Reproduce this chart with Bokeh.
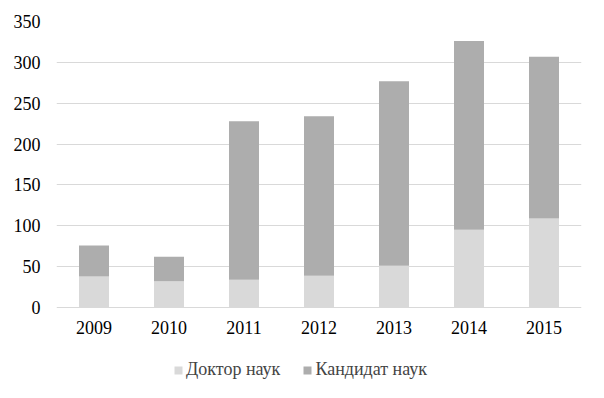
from bokeh.plotting import figure
from bokeh.models import Legend, LegendItem, FactorRange, Range1d
from bokeh.core.properties import value
from bokeh.embed import file_html
from bokeh.resources import INLINE

years = ["2009", "2010", "2011", "2012", "2013", "2014", "2015"]
doctor = [38, 32, 34, 39, 51, 95, 109]
candidate = [38, 30, 194, 195, 226, 231, 198]
series_names = ["Доктор наук", "Кандидат наук"]
colors = ["#d9d9d9", "#adadad"]
y_ticks = [0, 50, 100, 150, 200, 250, 300, 350]

FONT = "Liberation Serif"

# frame extends below zero so that the legend can sit inside it without clipping
p = figure(x_range=FactorRange(*years, range_padding=0), y_range=Range1d(-101.57, 350),
           frame_width=525, frame_height=369,
           output_backend="svg", toolbar_location=None,
           min_border_left=56, min_border_right=7, min_border_top=21, min_border_bottom=0)

data = {"years": years, "doc": doctor, "cand": candidate, "zero": [0] * len(years)}
r = p.vbar_stack(["doc", "cand"], x="years", width=0.4, color=colors, source=data, line_width=0)

# category labels under the zero line
p.text(x="years", y="zero", text="years", source=data, text_align="center",
       text_baseline="top", y_offset=13, text_font=value(FONT), text_font_size="18px",
       text_color="#000000")

p.outline_line_color = None
p.background_fill_color = "white"
p.xaxis.visible = False
p.xgrid.grid_line_color = None
p.ygrid.grid_line_color = "#d9d9d9"
p.ygrid.ticker = y_ticks
p.yaxis.ticker = y_ticks
p.yaxis.axis_line_color = None
p.yaxis.major_tick_line_color = None
p.yaxis.minor_tick_line_color = None
p.yaxis.major_tick_out = 0
p.yaxis.major_label_standoff = 16
p.yaxis.major_label_text_font = FONT
p.yaxis.major_label_text_font_size = "18px"
p.yaxis.major_label_text_color = "#000000"

legend = Legend(items=[LegendItem(label=series_names[0], renderers=[r[0]]),
                       LegendItem(label=series_names[1], renderers=[r[1]])],
                orientation="horizontal", location=(117, 10),
                label_text_font=FONT, label_text_font_size="18px",
                glyph_width=10, glyph_height=10, spacing=22, label_standoff=3,
                border_line_color=None, background_fill_alpha=0, padding=0, margin=0)
p.add_layout(legend, "center")

open("out.html", "w").write(file_html(p, INLINE))
